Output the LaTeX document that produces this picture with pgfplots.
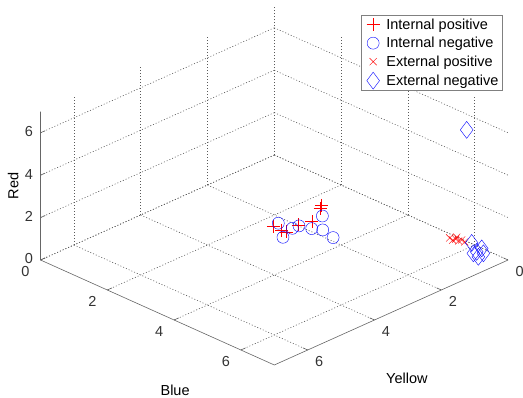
\documentclass[border=0pt]{standalone}
\usepackage{pgfplots}
\pgfplotsset{compat=1.18}
\usepackage{fontspec}
\setmainfont{Liberation Sans}
\newcommand{\fs}{\fontsize{14.5pt}{17pt}\selectfont}
\begin{document}
\begin{tikzpicture}
\useasboundingbox (0,0) rectangle (523pt,-398pt);
\begin{axis}[
  at={(274.3pt,-155pt)}, anchor=origin,
  x={(-33.4pt,-15pt)}, y={(33.4pt,-15pt)}, z={(0pt,21.2pt)},
  xmin=0,xmax=7,ymin=0,ymax=7,zmin=0,zmax=7,
  xtick={0,2,4,6}, ytick={0,2,4,6}, ztick={0,2,4,6},
  tick pos=left,
  grid=major,
  major grid style={dash pattern=on 1pt off 2pt, black!65, line width=0.6pt},
  axis line style={draw=none},
  tick style={draw=none},
  clip=false,
  /pgf/number format/assume math mode=true,
  tick label style={font=\fs, text=black!80},
  xticklabel style={xshift=5.5pt, yshift=-2pt},
  yticklabel style={xshift=-9pt, yshift=-2pt},
  zticklabel style={xshift=-4pt, yshift=1pt},
  label style={font=\fs},
  xlabel={Yellow}, ylabel={Blue}, zlabel={Red},
  xlabel style={at={(axis cs:5.45,9.42,0)}, anchor=center, rotate=0},
  ylabel style={at={(axis cs:9.32,6.35,0)}, anchor=center, rotate=0},
  zlabel style={at={(axis cs:7.82,0,4.07)}, anchor=center, rotate=0},
  legend style={at={(axis cs:-3.16,3.66,6.96)}, anchor=north east, draw=black!50, font=\fs, inner sep=1.5pt, row sep=2.5pt, cells={anchor=west}},
  legend cell align=left,
  legend image code/.code={\path (0pt,0pt) (21pt,0pt); \draw[#1] plot coordinates {(10pt,0pt)};},
]
\draw[black!60, line width=0.6pt] (axis cs:7,0,7) -- (axis cs:7,0,0) -- (axis cs:7,7,0) -- (axis cs:0,7,0);
\pgfplotsinvokeforeach{0,2,4,6}{
  \draw[black!60, line width=0.6pt] (axis cs:7,#1,0) -- (axis cs:6.86,#1,0);
  \draw[black!60, line width=0.6pt] (axis cs:#1,7,0) -- (axis cs:#1,6.86,0);
  \draw[black!60, line width=0.6pt] (axis cs:7,0,#1) -- (axis cs:6.86,0,#1);
}
\addplot3[only marks, mark=+, red, mark size=6.5pt, line width=0.4pt] coordinates {
(3.11,3.08,1) (3.10,3.32,1) (3.08,3.45,1) (2.68,3.40,1) (2.37,3.49,1) (1.80,3.17,1) (1.72,3.13,1.05)
};
\addlegendentry{Internal positive}
\addplot3[only marks, mark=o, blue, mark size=6pt, line width=0.4pt] coordinates {
(2.92,3.04,1) (3.32,3.58,1) (2.88,3.42,1) (2.70,3.44,1) (2.60,3.72,1) (2.02,3.46,1) (2.48,3.93,1) (2.58,4.34,1)
};
\addlegendentry{Internal negative}
\addplot3[only marks, mark=x, red, mark size=5pt, line width=0.4pt] coordinates {
(0.35,5.60,0.3) (0.38,5.72,0.3) (0.30,5.73,0.3) (0.32,5.84,0.3) (0.24,5.85,0.3) (0.26,5.96,0.3) (0.22,5.68,0.3)
};
\addlegendentry{External positive}
\addplot3[only marks, mark=diamond, blue, mark size=8.5pt, line width=0.4pt] coordinates {
(0.19,6.10,0.3) (0.41,6.47,0.3) (0.22,6.43,0.3) (0.36,6.62,0.3) (0.55,6.66,0.3) (0.51,6.47,0.3) (0.17,5.93,5.5)
};
\addlegendentry{External negative}
\end{axis}
\end{tikzpicture}
\end{document}
